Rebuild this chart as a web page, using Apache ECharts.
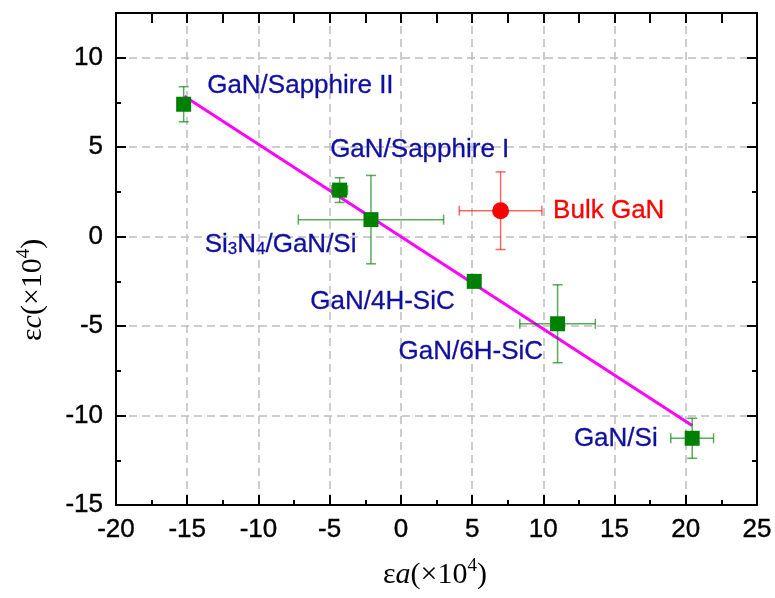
<!DOCTYPE html>
<html>
<head>
<meta charset="utf-8">
<script src="https://cdn.jsdelivr.net/npm/echarts@6/dist/echarts.min.js"></script>
<style>html,body{margin:0;padding:0;background:#fff}#c{width:775px;height:598px}</style>
</head>
<body>
<div id="c"></div>
<script>
// ---- data ----
const names   = ['GaN/Sapphire II','GaN/Sapphire I','Si3N4/GaN/Si','GaN/4H-SiC','GaN/6H-SiC','GaN/Si'];
const epsA    = [-15.25, -4.3, -2.1, 5.15, 11.0, 20.45];
const epsC    = [7.4, 2.6, 0.95, -2.5, -4.87, -11.27];
const errA    = [0, 0.55, 5.1, 0, 2.65, 1.5];
const errC    = [0.98, 0.69, 2.47, 0, 2.18, 1.12];

const bulkName = 'Bulk GaN';
const bulkA    = [7.0];
const bulkC    = [1.45];
const bulkErrA = [2.9];
const bulkErrC = [2.17];

const fitA = [-15.2, 20.45];
const fitC = [7.85, -10.55];

const xTicks = [-20, 25, 5];   // min, max, interval
const yTicks = [-15, 12.5, 5];

// ---- label placement (styles, px) ----
const labelPlace = [
  {pos:'right', off:[11,-18]},
  {pos:'right', off:[-22,-40]},
  {pos:'left',  off:[-2,25]},
  {pos:'left',  off:[-7,20]},
  {pos:'left',  off:[-2,28]},
  {pos:'left',  off:[-22,1]}
];

const NAVY = '#1010a0';
const GREEN = '#008000';
const RED = '#ff0000';
const SANS = 'Liberation Sans, Arial';
const SERIF = 'Liberation Serif, Times New Roman';

function errRender(color){
  return function(params, api){
    const x = api.value(0), y = api.value(1), ea = api.value(2), ec = api.value(3);
    const ch = [];
    const st = {stroke: color, lineWidth: 1.5};
    const cap = 5;
    if (ec > 0){
      const t = api.coord([x, y+ec]), b = api.coord([x, y-ec]);
      ch.push({type:'line', shape:{x1:t[0],y1:t[1],x2:b[0],y2:b[1]}, style:st});
      ch.push({type:'line', shape:{x1:t[0]-cap,y1:t[1],x2:t[0]+cap,y2:t[1]}, style:st});
      ch.push({type:'line', shape:{x1:b[0]-cap,y1:b[1],x2:b[0]+cap,y2:b[1]}, style:st});
    }
    if (ea > 0){
      const l = api.coord([x-ea, y]), r = api.coord([x+ea, y]);
      ch.push({type:'line', shape:{x1:l[0],y1:l[1],x2:r[0],y2:r[1]}, style:st});
      ch.push({type:'line', shape:{x1:l[0],y1:l[1]-cap,x2:l[0],y2:l[1]+cap}, style:st});
      ch.push({type:'line', shape:{x1:r[0],y1:r[1]-cap,x2:r[0],y2:r[1]+cap}, style:st});
    }
    return {type:'group', children: ch};
  };
}

const greenErr = epsA.map((a,i)=>[a, epsC[i], errA[i], errC[i]]);
const redErr = bulkA.map((a,i)=>[a, bulkC[i], bulkErrA[i], bulkErrC[i]]);

const richLbl = {
  sub: {fontSize: 17, color: NAVY, fontFamily: SANS, textBorderColor: NAVY, textBorderWidth: 0.3,
        verticalAlign:'bottom', padding:[5,0,0,0]}
};
function fmtName(n){
  if (n === 'Si3N4/GaN/Si') return 'Si{sub|3}N{sub|4}/GaN/Si';
  return n;
}

const greenPts = epsA.map((a,i)=>({
  value:[a, epsC[i]],
  name: names[i],
  label:{
    show:true, position: labelPlace[i].pos, offset: labelPlace[i].off,
    formatter: fmtName(names[i]),
    color: NAVY, fontSize: 26, fontFamily: SANS,
    textBorderColor: NAVY, textBorderWidth: 0.3,
    rich: richLbl
  }
}));

const axisCommon = {
  type:'value',
  axisLine:{show:true, onZero:false, lineStyle:{color:'#000', width:2}},
  axisTick:{show:true, inside:true, length:10, lineStyle:{color:'#000', width:2}},
  minorTick:{show:true, splitNumber:2, length:5, lineStyle:{color:'#000', width:2}},
};
const tickLbl = {color:'#000', fontSize:26, fontFamily:SANS, textBorderColor:'#000', textBorderWidth:0.4};

const chart = echarts.init(document.getElementById('c'), null, {renderer:'canvas'});
chart.setOption({
  animation:false,
  backgroundColor:'#fff',
  grid:{left:116, right:18, top:13, bottom:93, containLabel:false},
  xAxis:[
    Object.assign({}, axisCommon, {
      position:'bottom', min:xTicks[0], max:xTicks[1], interval:xTicks[2],
      axisLabel:Object.assign({margin:12}, tickLbl),
      splitLine:{show:true, lineStyle:{color:'#bdbdbd', width:1.5, type:[8,5]}}
    }),
    Object.assign({}, axisCommon, {
      position:'top', min:xTicks[0], max:xTicks[1], interval:xTicks[2],
      axisLabel:{show:false}, splitLine:{show:false},
      minorTick:{show:true, splitNumber:2, length:10, lineStyle:{color:'#000', width:2}}
    })
  ],
  yAxis:[
    Object.assign({}, axisCommon, {
      position:'left', min:yTicks[0], max:yTicks[1], interval:yTicks[2],
      axisLabel:Object.assign({margin:13, showMaxLabel:false,
        formatter: v => (v % 5 === 0 ? String(v) : '')}, tickLbl),
      splitLine:{show:true, lineStyle:{color:'#bdbdbd', width:1.5, type:[8,5]}}
    }),
    Object.assign({}, axisCommon, {
      position:'right', min:yTicks[0], max:yTicks[1], interval:yTicks[2],
      axisLabel:{show:false}, splitLine:{show:false}
    })
  ],
  series:[
    {
      type:'line', data: fitA.map((a,i)=>[a, fitC[i]]),
      showSymbol:false, symbol:'none',
      lineStyle:{color:'#ff00ff', width:3}, z:2, silent:true
    },
    {
      type:'custom', renderItem: errRender('rgba(0,128,0,0.65)'),
      data: greenErr, z:3, silent:true,
      encode:{x:0, y:1}
    },
    {
      type:'custom', renderItem: errRender('rgba(255,0,0,0.6)'),
      data: redErr, z:3, silent:true,
      encode:{x:0, y:1}
    },
    {
      type:'scatter', symbol:'rect', symbolSize:15,
      itemStyle:{color:GREEN, opacity:1}, data: greenPts, z:4
    },
    {
      type:'scatter', symbol:'circle', symbolSize:17,
      itemStyle:{color:RED, opacity:1}, z:4,
      data: bulkA.map((a,i)=>({value:[a, bulkC[i]], name:bulkName})),
      label:{show:true, position:'right', offset:[39,0], formatter: bulkName,
        color: RED, fontSize:26, fontFamily:SANS, textBorderColor: RED, textBorderWidth:0.3}
    }
  ],
  graphic:[
    {
      type:'text', left:383, top:557,
      style:{
        text:'{e|ε}{i|a}{p|(×10}{s|4}{p|)}',
        rich:{
          e:{fontFamily:SERIF, fontSize:30, fill:'#000'},
          i:{fontFamily:SERIF, fontSize:30, fontStyle:'italic', fill:'#000'},
          p:{fontFamily:SERIF, fontSize:30, fill:'#000'},
          s:{fontFamily:SERIF, fontSize:19, fill:'#000', verticalAlign:'top', padding:[0,0,18,0]}
        }
      }
    },
    {
      type:'text', x:15, y:341, rotation:Math.PI/2,
      style:{
        text:'{e|ε}{i|c}{p|(×10}{s|4}{p|)}',
        rich:{
          e:{fontFamily:SERIF, fontSize:30, fill:'#000'},
          i:{fontFamily:SERIF, fontSize:30, fontStyle:'italic', fill:'#000'},
          p:{fontFamily:SERIF, fontSize:30, fill:'#000'},
          s:{fontFamily:SERIF, fontSize:19, fill:'#000', verticalAlign:'top', padding:[0,0,18,0]}
        }
      }
    }
  ]
});
</script>
</body>
</html>
